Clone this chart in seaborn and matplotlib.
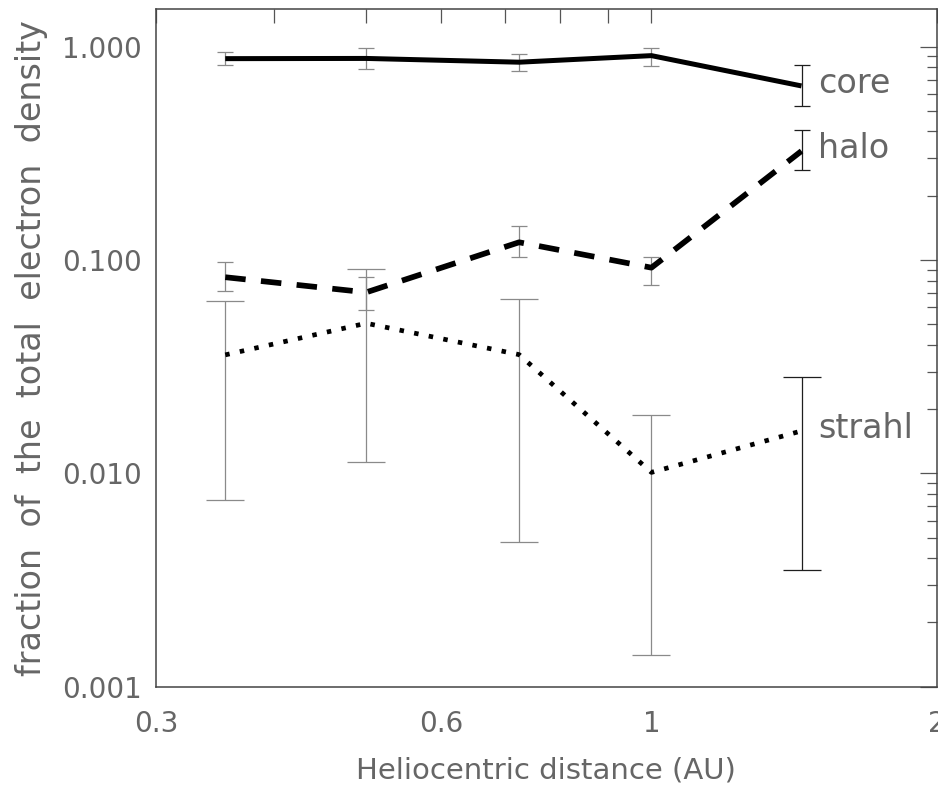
import numpy as np
import pandas as pd
import matplotlib
matplotlib.use("Agg")
import matplotlib.pyplot as plt
import matplotlib.ticker as mticker
import seaborn as sns

# ---- data ----
x_au = [0.355, 0.50, 0.725, 1.0, 1.44]

core = [0.878, 0.880, 0.845, 0.907, 0.654]
core_hi = [0.940, 0.983, 0.921, 0.989, 0.818]
core_lo = [0.820, 0.789, 0.772, 0.815, 0.527]

halo = [0.083, 0.0705, 0.121, 0.092, 0.324]
halo_hi = [0.0973, 0.083, 0.1435, 0.1035, 0.407]
halo_lo = [0.0717, 0.0585, 0.1035, 0.076, 0.264]

strahl = [0.0359, 0.0505, 0.036, 0.0101, 0.0158]
strahl_hi = [0.0644, 0.0906, 0.0655, 0.0188, 0.0282]
strahl_lo = [0.0075, 0.0113, 0.00478, 0.00141, 0.00352]

components = ["core", "halo", "strahl"]
x_ticks = [0.3, 0.4, 0.5, 0.6, 0.7, 0.8, 0.9, 1.0, 2.0]
x_tick_labels = ["0.3", "", "", "0.6", "", "", "", "1", "2"]
y_ticks = [0.001, 0.01, 0.1, 1.0]
y_tick_labels = ["0.001", "0.010", "0.100", "1.000"]

series = {
    "core": (core, core_lo, core_hi),
    "halo": (halo, halo_lo, halo_hi),
    "strahl": (strahl, strahl_lo, strahl_hi),
}

df = pd.DataFrame(
    [(x, v, name) for name in components for x, v in zip(x_au, series[name][0])],
    columns=["dist", "frac", "component"],
)

# ---- style ----
sns.set_style("white")
plt.rcParams["font.family"] = ["DejaVu Sans"]
TXT = "#666666"

fig = plt.figure(figsize=(9.38, 7.91), dpi=100)
ax = fig.add_axes([0.1663, 0.1319, 0.8323, 0.8567])
ax.set_xscale("log")
ax.set_yscale("log")

# error bars
cap_half = {"core": 6, "halo": 6, "strahl": 14}
err_cols = ["#8a8a8a", "#8a8a8a", "#8a8a8a", "#8a8a8a", "#1e1e1e"]
for name in components:
    vals, lo, hi = series[name]
    for i, (x, v, l, h) in enumerate(zip(x_au, vals, lo, hi)):
        ax.errorbar([x], [v], yerr=[[v - l], [h - v]], fmt="none",
                    ecolor=err_cols[i], elinewidth=0.9, capsize=cap_half[name],
                    capthick=0.9, zorder=2)

# lines
line_w = {"core": 3.6, "halo": 4.1, "strahl": 3.4}
dash_map = {"core": "", "halo": (3.6, 2.7), "strahl": (0.95, 2.2)}
for name in components:
    sns.lineplot(data=df[df["component"] == name], x="dist", y="frac",
                 color="black", linewidth=line_w[name], dashes=False,
                 estimator=None, sort=False, legend=False, ax=ax, zorder=3)
    ln = ax.lines[-1]
    if dash_map[name]:
        ln.set_dashes(dash_map[name])
    ln.set_solid_capstyle("butt")
    ln.set_dash_capstyle("butt")

# labels at the last point
for name in components:
    ax.annotate(name, xy=(x_au[-1], series[name][0][-1]), xytext=(12, 2),
                textcoords="offset points", ha="left", va="center",
                fontsize=24, color=TXT)

ax.set_xlim(0.3, 2.0)
ax.set_ylim(0.001, 1.5)

ax.xaxis.set_major_locator(mticker.FixedLocator(x_ticks))
ax.xaxis.set_major_formatter(mticker.FixedFormatter(x_tick_labels))
ax.xaxis.set_minor_locator(mticker.NullLocator())
ax.yaxis.set_major_locator(mticker.FixedLocator(y_ticks))
ax.yaxis.set_major_formatter(mticker.FixedFormatter(y_tick_labels))
ax.yaxis.set_minor_locator(mticker.LogLocator(base=10, subs=np.arange(2, 10), numticks=20))
ax.yaxis.set_minor_formatter(mticker.NullFormatter())

ax.tick_params(axis="both", which="both", direction="in", top=True, right=True,
               color="#555555", width=0.9, labelcolor=TXT, labelsize=20)
ax.tick_params(axis="x", which="major", length=10, pad=17)
ax.tick_params(axis="y", which="major", length=12, pad=10)
ax.tick_params(axis="y", which="minor", length=7)

for s in ax.spines.values():
    s.set_color("#444444")
    s.set_linewidth(1.1)

ax.set_xlabel("Heliocentric distance (AU)", fontsize=21, color=TXT, va="center")
ax.set_ylabel("fraction  of  the  total  electron  density", fontsize=24,
              color=TXT, va="center")
ax.xaxis.set_label_coords(0.5, -0.123)
ax.yaxis.set_label_coords(-0.159, 0.5)

fig.savefig("out.png", dpi=100)
